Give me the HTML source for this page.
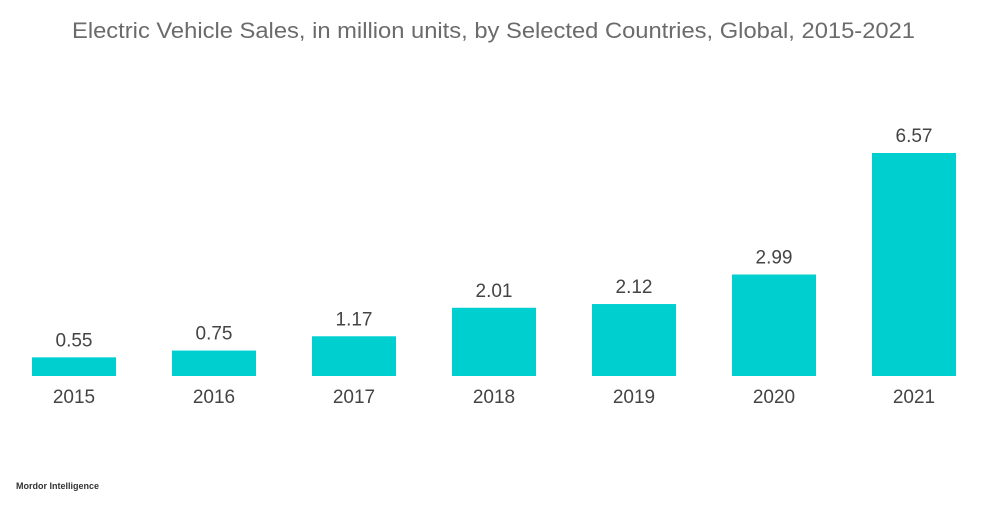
<!DOCTYPE html>
<html><head><meta charset="utf-8"><style>
body{margin:0;background:#fff;width:1000px;height:504px;overflow:hidden;font-family:"Liberation Sans",sans-serif;}
</style></head><body>
<svg width="1000" height="504">
<text x="72" y="38" font-size="22" fill="#6b6b6b" textLength="843" lengthAdjust="spacingAndGlyphs">Electric Vehicle Sales, in million units, by Selected Countries, Global, 2015-2021</text>
<g id="bars"></g>
<text x="16" y="489" font-size="9" font-weight="bold" fill="#333">Mordor Intelligence</text>
</svg>
<script>
const categories=["2015","2016","2017","2018","2019","2020","2021"];
const values=[0.55,0.75,1.17,2.01,2.12,2.99,6.57];
const valueLabels=["0.55","0.75","1.17","2.01","2.12","2.99","6.57"];
const base=376, scale=223/6.57, x0=32, step=140, bw=84;
const g=document.getElementById('bars');
const ns="http://www.w3.org/2000/svg";
function y(v){return base-v*scale;}
function x(i){return x0+i*step;}
categories.forEach((c,i)=>{
  const r=document.createElementNS(ns,'rect');
  r.setAttribute('x',x(i));r.setAttribute('y',y(values[i]));
  r.setAttribute('width',bw);r.setAttribute('height',base-y(values[i]));
  r.setAttribute('fill','#00cfd0');
  
  
  g.appendChild(r);
  const t=document.createElementNS(ns,'text');
  t.setAttribute('x',x(i)+bw/2);t.setAttribute('y',y(values[i])-11);
  t.setAttribute('text-anchor','middle');t.setAttribute('font-size','19');t.setAttribute('fill','#444');
  t.textContent=valueLabels[i];
  
  
  g.appendChild(t);
  const l=document.createElementNS(ns,'text');
  l.setAttribute('x',x(i)+bw/2);l.setAttribute('y',403);
  l.setAttribute('text-anchor','middle');l.setAttribute('font-size','19');l.setAttribute('fill','#444');
  l.textContent=c;
  
  
  g.appendChild(l);
});
</script>
</body></html>
